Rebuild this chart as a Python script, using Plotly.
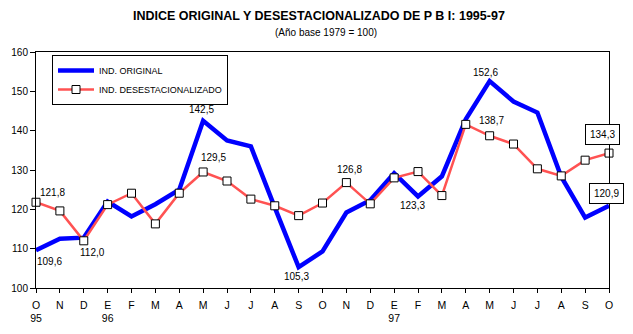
import plotly.graph_objects as go

months = ["O", "N", "D", "E", "F", "M", "A", "M", "J", "J", "A", "S",
          "O", "N", "D", "E", "F", "M", "A", "M", "J", "J", "A", "S", "O"]
years = {0: "95", 3: "96", 15: "97"}

original = [109.6, 112.5, 112.8, 122.0, 118.2, 121.3, 125.0, 142.5, 137.5, 136.0,
            120.5, 105.3, 109.3, 119.2, 122.3, 129.2, 123.3, 128.4, 142.9, 152.6,
            147.4, 144.6, 128.3, 117.9, 120.9]
desest = [121.8, 119.6, 112.0, 121.2, 124.1, 116.3, 124.1, 129.5, 127.2, 122.6,
          120.9, 118.4, 121.6, 126.8, 121.4, 128.0, 129.6, 123.5, 141.6, 138.7,
          136.6, 130.3, 128.5, 132.5, 134.3]

x = list(range(len(months)))
ticktext = [m + "<br>" + years.get(i, "") for i, m in enumerate(months)]

def fmt(v):
    return f"{v:.1f}".replace(".", ",")

fig = go.Figure()
fig.add_trace(go.Scatter(
    x=x, y=original, mode="lines", name="IND. ORIGINAL",
    line=dict(color="#0000ff", width=4.5), cliponaxis=False))
fig.add_trace(go.Scatter(
    x=x, y=desest, mode="lines+markers", name="IND. DESESTACIONALIZADO",
    line=dict(color="#ff5252", width=2.5),
    marker=dict(symbol="square", size=8, color="white",
                line=dict(color="black", width=1)),
    cliponaxis=False))

lbl_font = dict(family="Liberation Sans, Arial, sans-serif", size=10, color="black")
# (index, xshift, yshift, boxed)
orig_labels = [(0, 13, -11, False), (7, -2, 11, False), (11, -2, -9, False),
               (16, -6, -9, False), (19, -4, 9, False), (24, -3, 12, True)]
des_labels = [(0, 16, 10, False), (2, 9, -12, False), (7, 10, 14, False),
              (13, 3, 13, False), (19, 2, 15, False), (24, -7, 19, True)]

for series, labels in ((original, orig_labels), (desest, des_labels)):
    for i, xs, ys, boxed in labels:
        kw = dict(x=x[i], y=series[i], xref="x", yref="y", text=fmt(series[i]),
                  showarrow=False, xshift=xs, yshift=ys, font=lbl_font)
        if boxed:
            kw.update(bgcolor="white", bordercolor="black", borderwidth=1,
                      borderpad=4)
        fig.add_annotation(**kw)

fig.add_annotation(text="<b>INDICE ORIGINAL Y DESESTACIONALIZADO DE P B I: 1995-97</b>",
                   xref="paper", yref="paper", x=(319 - 36) / 573, y=(288 - 16) / 236,
                   showarrow=False, xanchor="center", yanchor="middle",
                   font=dict(family="Liberation Sans, Arial, sans-serif", size=12.5, color="black"))
fig.add_annotation(text="(Año base 1979 = 100)",
                   xref="paper", yref="paper", x=(326 - 36) / 573, y=(288 - 32) / 236,
                   showarrow=False, xanchor="center", yanchor="middle",
                   font=dict(family="Liberation Sans, Arial, sans-serif", size=10, color="black"))

fig.update_layout(
    width=633, height=334,
    margin=dict(l=36, r=24, t=52, b=46),
    paper_bgcolor="white", plot_bgcolor="white",
    font=dict(family="Liberation Sans, Arial, sans-serif", size=10, color="black"),
    showlegend=True,
    legend=dict(x=(52 - 36) / 573, y=(288 - 55) / 236, xanchor="left", yanchor="top",
                bordercolor="black", borderwidth=1, bgcolor="white",
                font=dict(size=9), tracegroupgap=0, itemwidth=36),
)
fig.update_xaxes(range=[0, 24], tickvals=x, ticktext=ticktext, showgrid=False,
                 zeroline=False, showline=True, linecolor="black", linewidth=1,
                 mirror=True, ticks="outside", ticklen=4, tickcolor="black",
                 tickfont=dict(size=10.5), ticklabelstandoff=3, automargin=False)
fig.update_yaxes(range=[100, 160], tickvals=[100, 110, 120, 130, 140, 150, 160],
                 showgrid=False, zeroline=False, showline=True, linecolor="black",
                 linewidth=1, mirror=True, ticks="outside", ticklen=5,
                 tickcolor="black", tickfont=dict(size=10), automargin=False)

fig.write_html("out.html")
